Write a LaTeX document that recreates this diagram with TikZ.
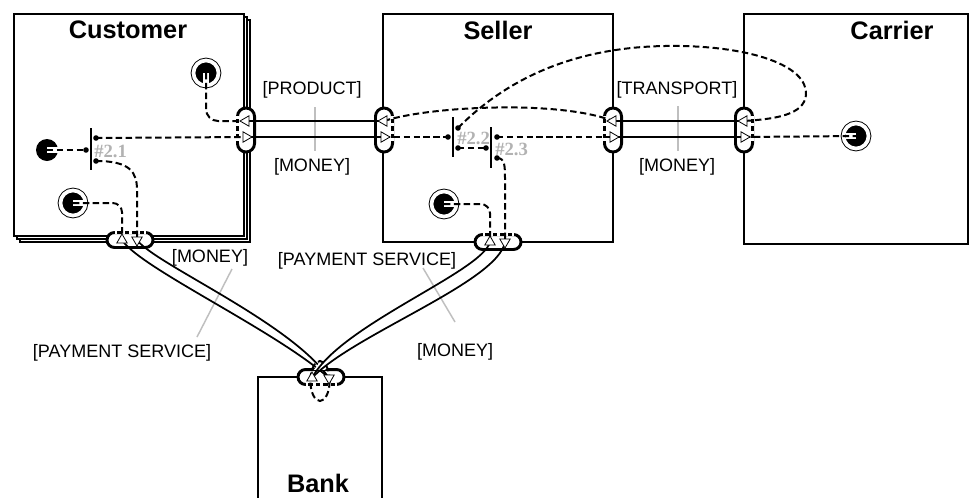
\documentclass[tikz,border=0pt]{standalone}
\usepackage{fontspec}
\setmainfont{Liberation Sans}
\newfontfamily\forkfont{Liberation Serif}
\usetikzlibrary{shapes.geometric,calc}

\tikzset{
  actorline/.style={draw, line width=2.2pt, fill=white},
  actorback/.style={draw, line width=1.1pt, fill=white},
  title/.style={font=\bfseries\fontsize{19}{22}\selectfont, inner sep=0pt},
  lbl/.style={font=\fontsize{13.5}{16}\selectfont, inner sep=0pt},
  tick/.style={draw=black!25, line width=1.1pt},
  iface/.style={draw, line width=2.2pt, fill=white, inner sep=0pt, outer sep=0pt},
  vport/.style={iface, rounded corners=6.4pt, minimum width=12.8pt, minimum height=33pt},
  hport/.style={iface, rounded corners=5.6pt, minimum width=34.5pt, minimum height=11.2pt},
  innerdash/.style={draw=white, line width=2.8pt, dash pattern=on 2.2pt off 3.4pt},
  tri/.style={regular polygon, regular polygon sides=3, draw, fill=white,
    line width=0.6pt, minimum size=9pt, inner sep=0pt},
  triL/.style={tri, shape border rotate=90},
  triR/.style={tri, shape border rotate=270},
  triU/.style={tri},
  triD/.style={tri, shape border rotate=180},
  vx/.style={draw, line width=1.3pt},
  vxcase/.style={draw=white, line width=4pt},
  dep/.style={draw, line width=1.5pt, dash pattern=on 4.8pt off 2.6pt},
  casing/.style={draw=white, line width=4.2pt},
  startstim/.style={circle, fill=black, minimum size=16.5pt, inner sep=0pt, outer sep=0pt},
  endstim/.style={circle, fill=black, draw=black, double=white, double distance=2.8pt,
    line width=0.7pt, minimum size=18.8pt, inner sep=0pt, outer sep=0pt},
  dot/.style={circle, fill=black, minimum size=4.2pt, inner sep=0pt},
  forkbar/.style={fill=black, minimum width=1.2pt, inner sep=0pt},
  forklbl/.style={font=\forkfont\bfseries\fontsize{14}{16}\selectfont, text=black!30,
    inner sep=0pt, anchor=west},
}

\begin{document}
\begin{tikzpicture}[x=0.75pt, y=-0.75pt]
\useasboundingbox (0,0) rectangle (970,497);
\fill[white] (0,0) rectangle (970,497);

% ---------- actors ----------
\draw[actorback] (20,20) rectangle (250,242);
\draw[actorback] (17,17) rectangle (247,239);
\draw[actorline] (14,14) rectangle (244,236);
\draw[actorline] (383,14) rectangle (613,242);
\draw[actorline] (744,14) rectangle (968,244);
\filldraw[actorline] (258,510) -- (258,377) -- (382,377) -- (382,510);

\node[title] (t-cust) at (128,30) {Customer};
\node[title] (t-sell) at (498,30) {Seller};
\node[title] (t-carr) at (892,30) {Carrier};
\node[title] (t-bank) at (318,483) {Bank};

% ---------- label ticks ----------
\draw[tick] (315,107) -- (315,151);
\draw[tick] (678,106) -- (678,151);
\draw[tick] (232,269) -- (197,337);
\draw[tick] (423,268) -- (455,322);

% ---------- value interfaces ----------
\node[vport] (cr) at (246,130) {};
\node[vport] (sl) at (384,130) {};
\node[vport] (sr) at (613,130) {};
\node[vport] (kl) at (744,130) {};
\node[hport] (cb) at (130,240) {};
\node[hport] (sb) at (498,242) {};
\node[hport] (bt) at (321,377) {};

% inner side of each interface is dashed
\draw[innerdash] ($(cr.north west)+(0,8)$) -- ($(cr.south west)+(0,-8)$);
\draw[innerdash] ($(sl.north east)+(0,8)$) -- ($(sl.south east)+(0,-8)$);
\draw[innerdash] ($(sr.north west)+(0,8)$) -- ($(sr.south west)+(0,-8)$);
\draw[innerdash] ($(kl.north east)+(0,8)$) -- ($(kl.south east)+(0,-8)$);
\draw[innerdash] ($(cb.north west)+(7.5,0)$) -- ($(cb.north east)+(-7.5,0)$);
\draw[innerdash] ($(sb.north west)+(7.5,0)$) -- ($(sb.north east)+(-7.5,0)$);
\draw[innerdash] ($(bt.south west)+(7.5,0)$) -- ($(bt.south east)+(-7.5,0)$);

% port positions
\coordinate (p-cr-a) at (246,121);
\coordinate (p-cr-b) at (246,137);
\coordinate (p-sl-a) at (384,121);
\coordinate (p-sl-b) at (384,137);
\coordinate (p-sr-a) at (613,121);
\coordinate (p-sr-b) at (613,137);
\coordinate (p-kl-a) at (744,121);
\coordinate (p-kl-b) at (744,137);
\coordinate (p-cb-a) at (122,240);
\coordinate (p-cb-b) at (137,240);
\coordinate (p-sb-a) at (490,242);
\coordinate (p-sb-b) at (505,242);
\coordinate (p-bt-a) at (312,378);
\coordinate (p-bt-b) at (329,378);

% ---------- value exchanges ----------
\draw[vx] (p-cr-a) -- (p-sl-a);
\draw[vx] (p-cr-b) -- (p-sl-b);
\draw[vx] (p-sr-a) -- (p-kl-a);
\draw[vx] (p-sr-b) -- (p-kl-b);

% customer <-> bank
\draw[vx] (p-cb-a) .. controls (140,268) and (275,330) .. (p-bt-b);
\draw[vx] (p-cb-b) .. controls (155,264) and (290,322) .. (p-bt-b);
% seller <-> bank, passing over the customer pair
\begin{scope}
  \clip (240,300) rectangle (420,369);
  \draw[vxcase] (p-sb-a) .. controls (482,272) and (340,325) .. (p-bt-a);
  \draw[vxcase] (p-sb-b) .. controls (498,282) and (352,335) .. (p-bt-a);
\end{scope}
\draw[vx] (p-sb-a) .. controls (482,272) and (340,325) .. (p-bt-a);
\draw[vx] (p-sb-b) .. controls (498,282) and (352,335) .. (p-bt-a);

% ---------- stimuli ----------
\node[startstim] (s-start) at (47,150) {};
\node[endstim] (s-cust1) at (206,73) {};
\node[endstim] (s-cust2) at (73,203) {};
\node[endstim] (s-sell) at (444,204) {};
\node[endstim] (s-carr) at (856,136) {};
\draw[casing] (s-start.center) -- (s-start.east);
\draw[casing] (s-cust1.center) -- ($(s-cust1.center)+(0,10.5)$);
\draw[casing] (s-cust2.center) -- ($(s-cust2.center)+(10.5,0)$);
\draw[casing] (s-sell.center) -- ($(s-sell.center)+(10.5,0)$);
\draw[casing] (s-carr.center) -- ($(s-carr.center)+(-10.5,0)$);

% ---------- AND forks ----------
\node[forkbar, minimum height=32pt] (f21) at (91,149) {};
\node[dot] (f21-in) at (86,150) {};
\node[dot] (f21-o1) at (96,138) {};
\node[dot] (f21-o2) at (96,161) {};
\node[forklbl] (l21) at (94,151) {\#2.1};

\node[forkbar, minimum height=30pt] (f22) at (453,137) {};
\node[dot] (f22-in) at (448,137) {};
\node[dot] (f22-o1) at (458,128) {};
\node[dot] (f22-o2) at (458,148) {};
\node[forklbl] (l22) at (457,138) {\#2.2};

\node[forkbar, minimum height=31pt] (f23) at (491,147.5) {};
\node[dot] (f23-in) at (486,148) {};
\node[dot] (f23-o1) at (497,137) {};
\node[dot] (f23-o2) at (497,158) {};
\node[forklbl] (l23) at (495,149) {\#2.3};

% ---------- dependency paths ----------
\draw[dep] (s-start.center) -- (f21-in.center);
\draw[dep] (f21-o1.center) -- (p-cr-b);
\draw[dep] (f21-o2.center) .. controls (130,161) and (137,172) .. (137,190) -- (p-cb-b);
\draw[dep, rounded corners=7pt] (s-cust2.center) -- (122,203) -- (p-cb-a);
\draw[dep, rounded corners=9pt] (s-cust1.center) -- (206,121) -- (p-cr-a);

\draw[dep] (p-sl-b) -- (f22-in.center);
\draw[dep] (p-sl-a) .. controls (430,106) and (560,100) .. (p-sr-a);
\draw[dep] (f22-o1.center) .. controls (530,55) and (620,45) .. (680,46)
  .. controls (750,47) and (808,65) .. (806,95)
  .. controls (804,115) and (775,119) .. (p-kl-a);
\draw[dep] (f22-o2.center) -- (f23-in.center);
\draw[dep] (f23-o1.center) -- (p-sr-b);
\draw[dep] (f23-o2.center) .. controls (505,158) and (505,166) .. (505,180) -- (p-sb-b);
\draw[dep, rounded corners=7pt] (s-sell.center) -- (490,204) -- (p-sb-a);
\draw[dep] (p-kl-b) -- (s-carr.center);

\coordinate (bt-loop) at (320,381);
\draw[dep] (bt-loop) ellipse [x radius=7.2pt, y radius=15pt];

% ---------- value ports ----------
\node[triL] (t-cr-a) at (p-cr-a) {};
\node[triR] (t-cr-b) at (p-cr-b) {};
\node[triL] (t-sl-a) at (p-sl-a) {};
\node[triR] (t-sl-b) at (p-sl-b) {};
\node[triL] (t-sr-a) at (p-sr-a) {};
\node[triR] (t-sr-b) at (p-sr-b) {};
\node[triL] (t-kl-a) at (p-kl-a) {};
\node[triR] (t-kl-b) at (p-kl-b) {};
\node[triU] (t-cb-a) at (p-cb-a) {};
\node[triD] (t-cb-b) at (p-cb-b) {};
\node[triU] (t-sb-a) at (p-sb-a) {};
\node[triD] (t-sb-b) at (p-sb-b) {};
\node[triU] (t-bt-a) at (p-bt-a) {};
\node[triD] (t-bt-b) at (p-bt-b) {};

% ---------- exchange labels ----------
\node[lbl] (lb-product) at (312,90) {[PRODUCT]};
\node[lbl] (lb-money1) at (312,167) {[MONEY]};
\node[lbl] (lb-transport) at (677,90) {[TRANSPORT]};
\node[lbl] (lb-money2) at (677,167) {[MONEY]};
\node[lbl] (lb-money3) at (210,258) {[MONEY]};
\node[lbl] (lb-pay1) at (122,353) {[PAYMENT SERVICE]};
\node[lbl] (lb-pay2) at (367,261) {[PAYMENT SERVICE]};
\node[lbl] (lb-money4) at (455,352) {[MONEY]};
\end{tikzpicture}
\end{document}
